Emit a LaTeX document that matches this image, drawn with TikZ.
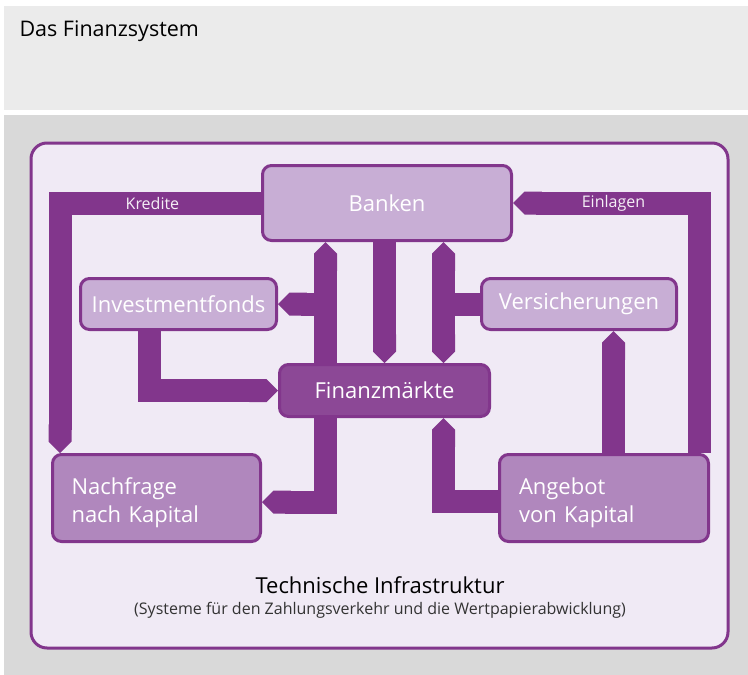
\documentclass[tikz,border=0pt]{standalone}
\usepackage{fontspec}
\setmainfont{Open Sans}
\definecolor{fsPurple}{HTML}{82368C}
\definecolor{fsLight}{HTML}{C8AED5}
\definecolor{fsMid}{HTML}{B087BD}
\definecolor{fsDark}{HTML}{8C4896}
\definecolor{fsPaper}{HTML}{F0EAF5}
\definecolor{fsHead}{HTML}{EBEBEB}
\definecolor{fsBody}{HTML}{D9D9D9}
\usepackage{tikz}
\usetikzlibrary{arrows.meta,calc}
\pgfdeclarelayer{paper}
\pgfdeclarelayer{flow}
\pgfsetlayers{paper,flow,main}
\tikzset{
 fsbox/.style={draw=fsPurple, line width=3pt, rounded corners=9pt, text=white, font=\fontsize{22}{28}\selectfont, inner sep=0pt},
 band/.style={draw=fsPurple, line width=23pt, -{Triangle Cap}},
 bandlabel/.style={text=white!92!fsPurple, font=\fontsize{16}{19}\selectfont}
}
\newcommand{\fsnode}[6][]{%
 \node[fsbox, minimum width=#4, minimum height=#5, #1] (#2) at (#3) {#6};}

\begin{document}
\begin{tikzpicture}[x=1pt, y=-1pt]
\useasboundingbox (0,0) rectangle (748,675);
\begin{pgfonlayer}{paper}
\fill[fsHead] (4,6) rectangle (748,110);
\fill[fsBody] (4,115) rectangle (748,675);
\draw[fsPurple, line width=3pt, fill=fsPaper, rounded corners=16pt] (31,143) rectangle (728,648);
\end{pgfonlayer}
\node[anchor=west, font=\fontsize{21.5}{25}\selectfont] (title) at (16,31) {Das Finanzsystem};
% boxes
\fsnode[fill=fsLight]{bank}{387,203}{249pt}{75pt}{Banken}
\fsnode[fill=fsLight]{inv}{178.5,304}{196pt}{51pt}{Investmentfonds}
\fsnode[fill=fsLight]{vers}{579,304}{195pt}{51pt}{Versicherungen}
\fsnode[fill=fsDark]{fm}{384.5,390.5}{210pt}{52pt}{Finanzmärkte}
\fsnode[fill=fsMid, align=left, text width=170pt, text depth=24pt]{nach}{156.5,498}{208pt}{87pt}{Nachfrage\\nach Kapital}
\fsnode[fill=fsMid, align=left, text width=170pt, text depth=24pt]{ang}{604,498}{209pt}{87pt}{Angebot\\von Kapital}
% flows
\begin{pgfonlayer}{flow}
\draw[band] (bank.west) -| ([xshift=9pt]nach.north west) node[bandlabel, pos=.27] {Kredite};
\draw[band] ([xshift=-11pt]ang.north east) |- (bank.east) node[bandlabel, pos=.73] {Einlagen};
\draw[band] ([xshift=-59pt]fm.north) -- ([xshift=-59pt]fm.north |- bank.south);
\draw[band] ([xshift=-59pt]fm.north |- inv.east) -- (inv.east);
\draw[band] (bank.south -| fm.north) -- (fm.north);
\draw[band, {Triangle Cap}-{Triangle Cap}] ([xshift=59pt]fm.north |- bank.south) -- ([xshift=59pt]fm.north);
\draw[band, -] (vers.west) -- ([xshift=59pt]fm.north |- vers.west);
\draw[band] ([xshift=-29.5pt]inv.south) |- (fm.west);
\draw[band] ([xshift=-59pt]fm.south) |- ([yshift=-4pt]nach.east);
\draw[band] ([yshift=-3.5pt]ang.west) -| ([xshift=59pt]fm.south);
\draw[band] ([xshift=9.5pt]ang.north) -- ([xshift=9.5pt]ang.north |- vers.south);
\end{pgfonlayer}
% infrastructure
\node[font=\fontsize{22}{26}\selectfont] (infra) at (380,585) {Technische Infrastruktur};
\node[font=\fontsize{16}{19}\selectfont, text=black!80] (infrasub) at (380,610) {(Systeme für den Zahlungsverkehr und die Wertpapierabwicklung)};
\end{tikzpicture}
\end{document}
